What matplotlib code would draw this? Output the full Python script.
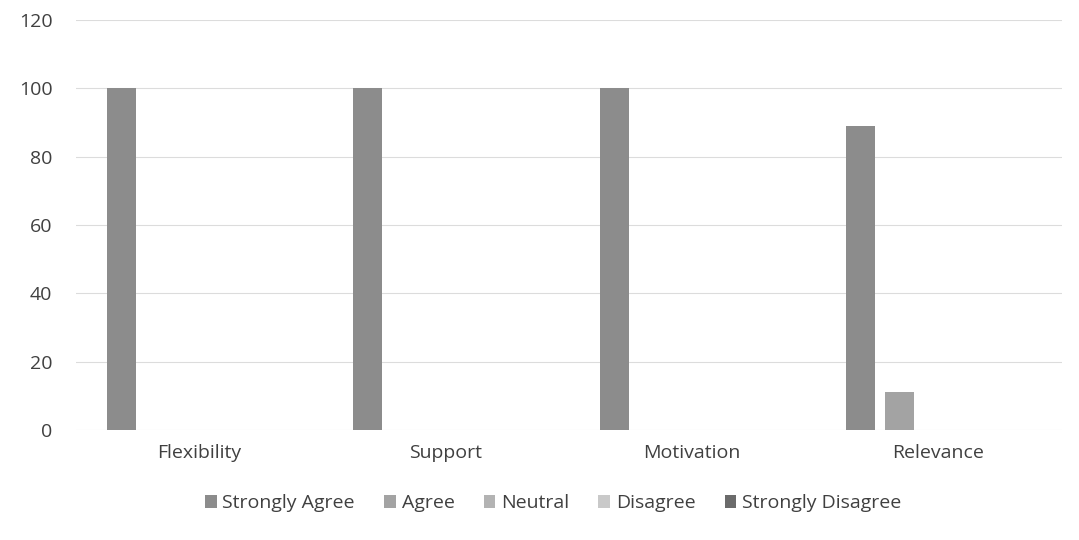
import matplotlib.pyplot as plt
import numpy as np

plt.rcParams['font.family'] = ['Open Sans', 'DejaVu Sans']

categories = ["Flexibility", "Support", "Motivation", "Relevance"]
series = ["Strongly Agree", "Agree", "Neutral", "Disagree", "Strongly Disagree"]
values = {
    "Strongly Agree": [100, 100, 100, 89],
    "Agree": [0, 0, 0, 11],
    "Neutral": [0, 0, 0, 0],
    "Disagree": [0, 0, 0, 0],
    "Strongly Disagree": [0, 0, 0, 0],
}
colors = ["#8c8c8c", "#a3a3a3", "#b3b3b3", "#c9c9c9", "#6b6b6b"]

fig = plt.figure(figsize=(10.79, 5.4), dpi=100)
ax = fig.add_axes([0.0705, 0.204, 0.9135, 0.759])

x = np.arange(len(categories))
slot = 0.158
width = 0.118
for i, s in enumerate(series):
    ax.bar(x + (i - 2) * slot, values[s], width=width, color=colors[i], label=s, zorder=3)

ax.set_xlim(-0.5, len(categories) - 0.5)
ax.set_ylim(0, 120)
ax.set_yticks(range(0, 121, 20))
ax.grid(axis='y', color='#dcdcdc', linewidth=0.8, zorder=0)
for sp in ax.spines.values():
    sp.set_visible(False)
ax.set_xticks(x)
ax.set_xticklabels(categories, fontsize=14, color='#404040')
ax.tick_params(axis='y', labelsize=14, labelcolor='#404040', length=0, pad=17)
ax.tick_params(axis='x', length=0, pad=10)

ax.legend(loc='upper center', bbox_to_anchor=(0.484, -0.115), ncol=5, frameon=False,
          fontsize=14, handlelength=0.6, handleheight=0.6, handletextpad=0.3,
          columnspacing=1.5, labelcolor='#404040')

plt.savefig("out.png", dpi=100)
